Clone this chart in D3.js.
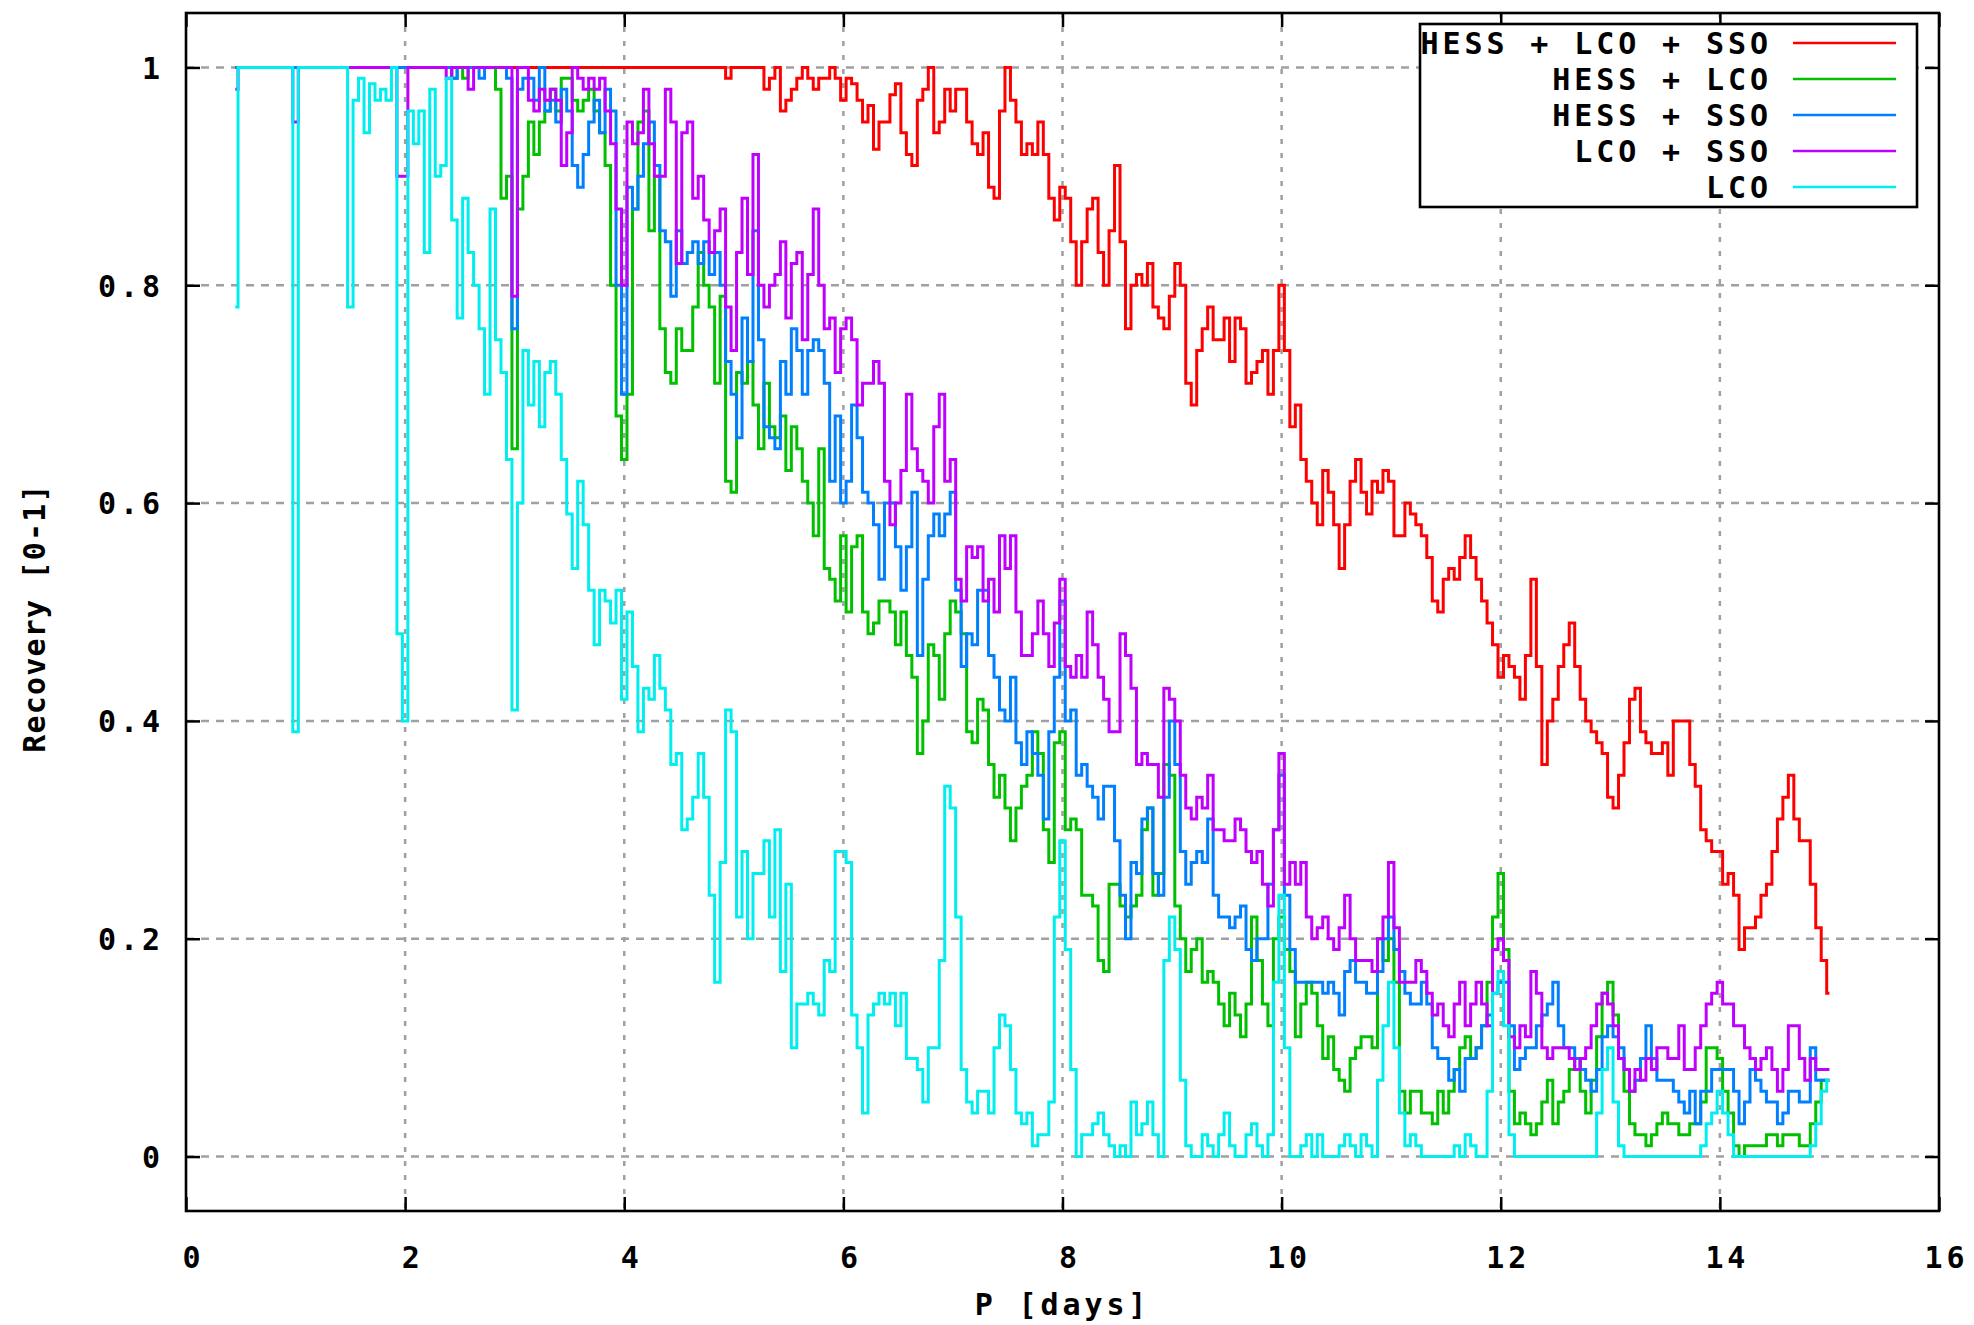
<!DOCTYPE html>
<html><head><meta charset="utf-8">
<script src="https://cdn.jsdelivr.net/npm/d3@7"></script>
<style>
html,body{margin:0;padding:0;background:#fff;}
svg text{font-family:"DejaVu Sans Mono",monospace;font-weight:bold;fill:#000;}
</style></head><body>
<svg id="chart" width="1974" height="1325"></svg>
<script>
// ---- data ----
const periodStart = 0.45;   // days, first sample
const periodStep = 0.05;    // days between samples
const xTicks = [0, 2, 4, 6, 8, 10, 12, 14, 16];
const xTickLabels = ["0", "2", "4", "6", "8", "10", "12", "14", "16"];
const yTicks = [0, 0.2, 0.4, 0.6, 0.8, 1];
const yTickLabels = ["0", "0.2", "0.4", "0.6", "0.8", "1"];
const seriesNames = ["HESS + LCO + SSO", "HESS + LCO", "HESS + SSO", "LCO + SSO", "LCO"];
const seriesColors = ["#ff0000", "#00c000", "#0080ff", "#c000ff", "#00eeee"];

const hessLcoSso = [
1,1,1,1,1,1,1,1,1,1, 1,1,1,1,1,1,1,1,1,1, 1,1,1,1,1,1,1,1,1,1, 1,1,1,1,1,1,1,
1,1,1,1,1,1,1,1,1,1, 1,1,1,1,1,1,1,1,1,1, 1,1,1,1,1,1,1,1,1,1, 1,1,1,1,1,1,1,1,1,1, 1,1,1,1,1,1,
1,1,1,1,1,1,1,0.99,1,1, 1,1,1,1,0.98,0.99,1,0.96,0.97,0.98, 0.99,1,0.99,0.98,0.99,0.99,1,0.99,0.97,0.99,
0.985,0.97,0.95,0.965,0.925,0.95,0.95,0.975,0.985,0.94, 0.92,0.91,0.97,0.98,1,
0.94,0.95,0.98,0.96,0.98,0.98,0.95,0.93,0.92,0.94, 0.89,0.88,0.96,1.0,0.97,0.95,0.92,0.93,0.92,0.95,
0.92,0.88,0.86,0.89,0.88,0.84,0.80,0.84,0.87,0.88, 0.83,0.80,0.85,0.91,0.84,0.76,0.80,0.81,0.80,0.82,
0.78,0.77,0.76,0.79,0.82,0.80,0.71,0.69,
0.74,0.76,0.78,0.75,0.75,0.77,0.73,0.77,0.76,0.71, 0.72,0.73,0.74,0.70,0.74,0.80,0.74,0.67,0.69,0.64,
0.62,0.60,0.58,0.63,0.61,0.58,0.54,0.58,0.62,0.64, 0.61,0.59,0.62,0.61,0.63,0.62,0.57,0.57,0.60,0.59,
0.58,0.57,0.55,0.51,0.50,
0.53,0.54,0.53,0.55,0.57,0.55,0.53,0.51,0.49,0.47, 0.44,0.46,0.45,0.44,0.42,0.46,0.53,0.45,0.36,0.40,
0.42,0.45,0.47,0.49,0.45,0.42,0.40,0.39,0.38,0.37, 0.33,0.32,0.35,0.38,0.42,0.43,0.39,0.38,0.37,0.37,
0.38,0.35,0.40,0.40,0.40,0.36,
0.34,0.30,0.29,0.28,0.28,0.25,0.26,0.24,0.19,0.21, 0.21,0.22,0.24,0.25,0.28,0.31,0.33,0.35,0.31,0.29,
0.29,0.25,0.21,0.18,0.15
];

const hessLco = [
1,1,1,1,1,1,1,1,1,1, 1,1,1,1,1,1,1,1,1,1, 1,1,1,1,1,1,1,1,1,1, 1,1,1,1,1,1,1,
1,1,1,0.99,1,0.99,1,1,1,1, 1,0.98,0.88,0.90,0.65,0.87,0.90,0.95,0.92,0.95,
0.96,0.98,0.96,0.99,0.99,0.97,0.96,0.97,0.98,0.96, 0.94,0.91,0.80,0.68,0.64,0.70,0.87,0.95,0.96,0.85,
0.90,0.76,0.72,0.71,0.76,0.74,
0.74,0.78,0.83,0.80,0.78,0.71,0.79,0.62,0.61,0.72, 0.71,0.73,0.69,0.65,0.71,0.67,0.66,0.68,0.63,0.67,
0.65,0.62,0.60,0.57,0.65,0.54,0.53,0.51,0.57,0.50, 0.56,0.57,0.50,0.48,0.49,0.51,0.51,0.50,0.47,0.50,
0.46,0.44,0.37,0.40,0.47,
0.46,0.42,0.48,0.51,0.50,0.48,0.39,0.38,0.42,0.41, 0.36,0.33,0.35,0.32,0.29,0.32,0.34,0.35,0.39,0.37,
0.30,0.27,0.38,0.39,0.30,0.31,0.30,0.24,0.24,0.23, 0.18,0.17,0.25,0.25,0.23,0.22,0.23,0.24,0.30,0.32,
0.24,0.26,0.36,0.35,0.23,0.20,0.17,0.19,
0.20,0.16,0.17,0.16,0.14,0.12,0.15,0.13,0.11,0.14, 0.22,0.18,0.14,0.12,0.20,0.22,0.19,0.17,0.11,0.14,
0.16,0.15,0.12,0.09,0.11,0.08,0.07,0.06,0.09,0.10, 0.11,0.11,0.10,0.20,0.18,0.20,0.16,0.06,0.04,0.06,
0.06,0.04,0.04,0.03,0.06,
0.04,0.06,0.08,0.10,0.11,0.09,0.10,0.12,0.16,0.22, 0.26,0.19,0.06,0.03,0.04,0.03,0.02,0.03,0.05,0.07,
0.03,0.05,0.06,0.08,0.09,0.06,0.04,0.07,0.11,0.15, 0.16,0.13,0.09,0.06,0.03,0.02,0.02,0.01,0.02,0.03,
0.04,0.03,0.03,0.02,0.02,0.03,
0.03,0.05,0.10,0.10,0.09,0.06,0.04,0.01,0.0,0.01, 0.01,0.01,0.01,0.02,0.02,0.01,0.02,0.02,0.02,0.01,
0.01,0.03,0.05,0.07,0.07
];

const hessSso = [
1,1,1,1,1,1,1,1,1,1, 1,1,1,1,1,1,1,1,1,1, 1,1,1,1,1,1,1,1,1,1, 1,1,1,1,1,1,1,
1,1,1,0.99,1,1,1,1,0.99,1, 1,1,1,0.99,0.76,0.98,0.99,0.99,0.97,1,
0.96,0.97,0.95,0.98,0.96,0.91,0.89,0.92,0.95,0.97, 0.94,0.98,0.96,0.80,0.70,0.89,0.87,0.90,0.93,0.95,
0.91,0.85,0.84,0.79,0.85,0.82,
0.83,0.84,0.82,0.84,0.81,0.83,0.80,0.73,0.70,0.66, 0.77,0.73,0.85,0.75,0.67,0.66,0.65,0.73,0.70,0.76,
0.74,0.70,0.74,0.75,0.74,0.71,0.62,0.68,0.60,0.62, 0.69,0.66,0.61,0.60,0.58,0.53,0.60,0.60,0.56,0.52,
0.56,0.61,0.46,0.53,0.57,
0.59,0.57,0.59,0.61,0.52,0.45,0.48,0.47,0.52,0.52, 0.46,0.44,0.41,0.40,0.44,0.38,0.36,0.39,0.37,0.35,
0.31,0.39,0.44,0.51,0.40,0.41,0.35,0.36,0.34,0.33, 0.31,0.34,0.34,0.29,0.24,0.20,0.27,0.26,0.31,0.32,
0.26,0.24,0.33,0.40,0.36,0.28,0.25,0.27,
0.28,0.27,0.31,0.24,0.22,0.22,0.21,0.22,0.23,0.19, 0.18,0.20,0.20,0.25,0.30,0.35,0.24,0.19,0.16,0.16,
0.16,0.16,0.16,0.15,0.16,0.15,0.13,0.17,0.18,0.16, 0.16,0.15,0.15,0.17,0.20,0.22,0.19,0.17,0.15,0.14,
0.14,0.16,0.14,0.10,0.09,
0.09,0.07,0.08,0.06,0.09,0.09,0.10,0.12,0.13,0.15, 0.16,0.16,0.12,0.08,0.09,0.10,0.10,0.12,0.13,0.14,
0.16,0.12,0.10,0.10,0.09,0.08,0.07,0.06,0.08,0.11, 0.12,0.11,0.10,0.08,0.06,0.07,0.09,0.12,0.09,0.07,
0.07,0.07,0.06,0.05,0.04,0.06,
0.03,0.06,0.06,0.08,0.08,0.08,0.08,0.06,0.03,0.05, 0.08,0.07,0.06,0.05,0.05,0.03,0.04,0.06,0.06,0.05,
0.05,0.10,0.07,0.07,0.07
];

const lcoSso = [
0.98,1,1,1,1,1,1,1,1,1, 1,0.95,1,1,1,1,1,1,1,1, 1,1,1,1,1,1,1,1,1,1, 0.9,0.9,1,1,1,1,1,
1,1,0.99,1,1,1,0.98,1,1,1, 1,1,1,1,0.79,1,1,0.97,0.96,0.98,
0.97,0.98,0.97,0.91,0.94,1,0.99,0.98,0.99,0.98, 0.99,0.96,0.93,0.87,0.80,0.95,0.93,0.94,0.98,0.93,
0.90,0.90,0.98,0.95,0.82,0.94,
0.95,0.88,0.90,0.86,0.83,0.85,0.87,0.78,0.74,0.83, 0.88,0.81,0.92,0.80,0.78,0.80,0.81,0.84,0.77,0.82,
0.83,0.75,0.81,0.87,0.80,0.76,0.77,0.72,0.76,0.77, 0.75,0.69,0.71,0.71,0.73,0.71,0.62,0.58,0.60,0.63,
0.70,0.65,0.63,0.62,0.60,
0.67,0.70,0.62,0.64,0.53,0.51,0.56,0.55,0.56,0.51, 0.53,0.50,0.57,0.54,0.57,0.50,0.46,0.46,0.48,0.51,
0.48,0.45,0.49,0.53,0.45,0.44,0.46,0.44,0.50,0.47, 0.44,0.42,0.39,0.39,0.48,0.46,0.43,0.36,0.37,0.36,
0.36,0.33,0.43,0.42,0.40,0.35,0.32,0.31,
0.33,0.32,0.35,0.30,0.30,0.29,0.29,0.31,0.30,0.28, 0.27,0.28,0.25,0.23,0.30,0.37,0.25,0.27,0.25,0.27,
0.22,0.20,0.21,0.22,0.20,0.19,0.21,0.24,0.20,0.18, 0.18,0.18,0.17,0.20,0.22,0.27,0.21,0.16,0.16,0.16,
0.18,0.17,0.15,0.13,0.14,
0.12,0.11,0.14,0.16,0.12,0.14,0.16,0.14,0.12,0.19, 0.20,0.18,0.11,0.10,0.12,0.11,0.17,0.15,0.10,0.09,
0.10,0.10,0.10,0.09,0.08,0.09,0.10,0.12,0.14,0.15, 0.14,0.12,0.09,0.08,0.06,0.08,0.07,0.09,0.08,0.10,
0.10,0.09,0.09,0.12,0.08,0.08,
0.10,0.12,0.14,0.15,0.16,0.14,0.14,0.12,0.12,0.10, 0.09,0.08,0.09,0.10,0.08,0.06,0.08,0.12,0.12,0.09,
0.07,0.09,0.08,0.08,0.08
];

const lcoOnly = [
0.78,1,1,1,1,1,1,1,1,1, 1,0.39,1,1,1,1,1,1,1,1, 1,0.78,0.97,0.99,0.94,0.985,0.97,0.98,0.97,1, 0.48,0.40,0.96,0.93,0.96,0.83,0.98,
0.90,0.91,0.99,0.86,0.77,0.88,0.83,0.80,0.76,0.70, 0.87,0.75,0.72,0.64,0.41,0.60,0.74,0.69,0.73,0.67,
0.72,0.73,0.70,0.64,0.59,0.54,0.62,0.58,0.52,0.47, 0.52,0.51,0.49,0.52,0.42,0.50,0.45,0.39,0.43,0.42,
0.46,0.43,0.41,0.36,0.37,0.30,
0.31,0.33,0.37,0.33,0.24,0.16,0.27,0.41,0.39,0.22, 0.28,0.20,0.26,0.26,0.29,0.22,0.30,0.17,0.25,0.10,
0.14,0.14,0.15,0.14,0.13,0.18,0.17,0.28,0.28,0.27, 0.13,0.10,0.04,0.13,0.14,0.15,0.14,0.15,0.12,0.15,
0.09,0.09,0.08,0.05,0.10,
0.10,0.18,0.34,0.32,0.22,0.08,0.05,0.04,0.06,0.06, 0.04,0.10,0.13,0.12,0.08,0.04,0.03,0.04,0.01,0.02,
0.02,0.05,0.22,0.29,0.19,0.08,0.0,0.02,0.02,0.03, 0.04,0.02,0.01,0.0,0.01,0.0,0.05,0.02,0.03,0.05,
0.02,0.0,0.18,0.22,0.19,0.07,0.01,0.0,
0.0,0.02,0.01,0.0,0.02,0.04,0.01,0.0,0.0,0.02, 0.03,0.01,0.0,0.02,0.16,0.24,0.10,0.0,0.0,0.01,
0.02,0.0,0.02,0.0,0.0,0.0,0.01,0.02,0.01,0.0, 0.02,0.01,0.0,0.07,0.12,0.16,0.10,0.04,0.01,0.02,
0.01,0.0,0.0,0.0,0.0,
0.0,0.0,0.01,0.0,0.02,0.01,0.0,0.0,0.06,0.15, 0.17,0.12,0.02,0.0,0.0,0.0,0.0,0.0,0.0,0.0,
0.0,0.0,0.0,0.0,0.0,0.0,0.0,0.0,0.04,0.08, 0.10,0.05,0.01,0.0,0.0,0.0,0.0,0.0,0.0,0.0,
0.0,0.0,0.0,0.0,0.0,0.0,
0.0,0.01,0.03,0.04,0.06,0.04,0.02,0.0,0.0,0.0, 0.0,0.0,0.0,0.0,0.0,0.0,0.0,0.0,0.0,0.0,
0.0,0.01,0.03,0.06,0.07
];

const seriesValues = [hessLcoSso, hessLco, hessSso, lcoSso, lcoOnly];
seriesValues.forEach((s, k) => { if (s.length !== 292) console.error("series " + k + " length " + s.length); });

// ---- layout ----
const W = 1974, H = 1325;
const margin = {left: 186, right: 35, top: 13, bottom: 114};
const w = W - margin.left - margin.right;
const h = H - margin.top - margin.bottom;
const FONT = 30, LS = 3.9;

const svg = d3.select("#chart");
const g = svg.append("g").attr("transform", `translate(${margin.left},${margin.top})`);

const x = d3.scaleLinear().domain([0, 16]).range([0, w]);
const y = d3.scaleLinear().domain([-0.05, 1.05]).range([h, 0]);

// grid
g.append("g").selectAll("line").data(yTicks).join("line")
  .attr("x1", 0).attr("x2", w).attr("y1", d => y(d)).attr("y2", d => y(d))
  .attr("stroke", "#a0a0a0").attr("stroke-width", 2.5).attr("stroke-dasharray", "8,7");
g.append("g").selectAll("line").data(xTicks.slice(1, -1)).join("line")
  .attr("x1", d => x(d)).attr("x2", d => x(d)).attr("y1", 0).attr("y2", h)
  .attr("stroke", "#a0a0a0").attr("stroke-width", 2.5).attr("stroke-dasharray", "5,9");

// series
const line = d3.line()
  .x((d, i) => x(periodStart + i * periodStep))
  .y(d => y(d))
  .curve(d3.curveStep);
seriesValues.forEach((vals, k) => {
  g.append("path").datum(vals)
    .attr("fill", "none").attr("stroke", seriesColors[k])
    .attr("stroke-width", 3).attr("stroke-linejoin", "miter")
    .attr("d", line);
});

// axes (inward ticks on all four sides)
const tickLen = 14;
const styleAxis = sel => {
  sel.select(".domain").remove();
  sel.selectAll(".tick line").attr("stroke", "#000").attr("stroke-width", 2.5);
  sel.selectAll(".tick text").attr("font-size", FONT).attr("letter-spacing", LS)
     .attr("font-family", "DejaVu Sans Mono").attr("font-weight", "bold");
};
g.append("g").attr("transform", `translate(0,${h})`)
  .call(d3.axisBottom(x).tickValues(xTicks).tickFormat((d, i) => xTickLabels[i])
        .tickSizeInner(-tickLen).tickSizeOuter(0).tickPadding(36))
  .call(styleAxis)
  .call(s => s.selectAll(".tick text").attr("dx", 7));
g.append("g")
  .call(d3.axisTop(x).tickValues(xTicks).tickFormat("").tickSizeInner(-tickLen).tickSizeOuter(0))
  .call(styleAxis);
g.append("g")
  .call(d3.axisLeft(y).tickValues(yTicks).tickFormat((d, i) => yTickLabels[i])
        .tickSizeInner(-tickLen).tickSizeOuter(0).tickPadding(26 - LS))
  .call(styleAxis)
  .call(s => s.selectAll(".tick text").attr("dy", "0.36em"));
g.append("g").attr("transform", `translate(${w},0)`)
  .call(d3.axisRight(y).tickValues(yTicks).tickFormat("").tickSizeInner(-tickLen).tickSizeOuter(0))
  .call(styleAxis);

// frame
g.append("rect").attr("x", 0).attr("y", 0).attr("width", w).attr("height", h)
  .attr("fill", "none").attr("stroke", "#000").attr("stroke-width", 2.6);

// axis titles
svg.append("text").attr("x", margin.left + w / 2).attr("y", 1315)
  .attr("text-anchor", "middle").attr("font-size", FONT).attr("letter-spacing", LS)
  .text("P [days]");
svg.append("text").attr("transform", "translate(45,618) rotate(-90)")
  .attr("text-anchor", "middle").attr("font-size", FONT).attr("letter-spacing", 1.2)
  .text("Recovery [0-1]");

// legend
const leg = svg.append("g");
leg.append("rect").attr("x", 1420).attr("y", 24).attr("width", 497).attr("height", 183)
  .attr("fill", "#fff").attr("stroke", "#000").attr("stroke-width", 2.6);
const rowY = [43, 79, 115, 151, 187];
seriesNames.forEach((name, k) => {
  leg.append("text").attr("x", 1768 + LS).attr("y", rowY[k] + 11)
    .attr("text-anchor", "end").attr("font-size", FONT).attr("letter-spacing", LS).text(name);
  leg.append("line").attr("x1", 1793).attr("x2", 1896).attr("y1", rowY[k]).attr("y2", rowY[k])
    .attr("stroke", seriesColors[k]).attr("stroke-width", 2.4);
});
</script>
</body></html>
